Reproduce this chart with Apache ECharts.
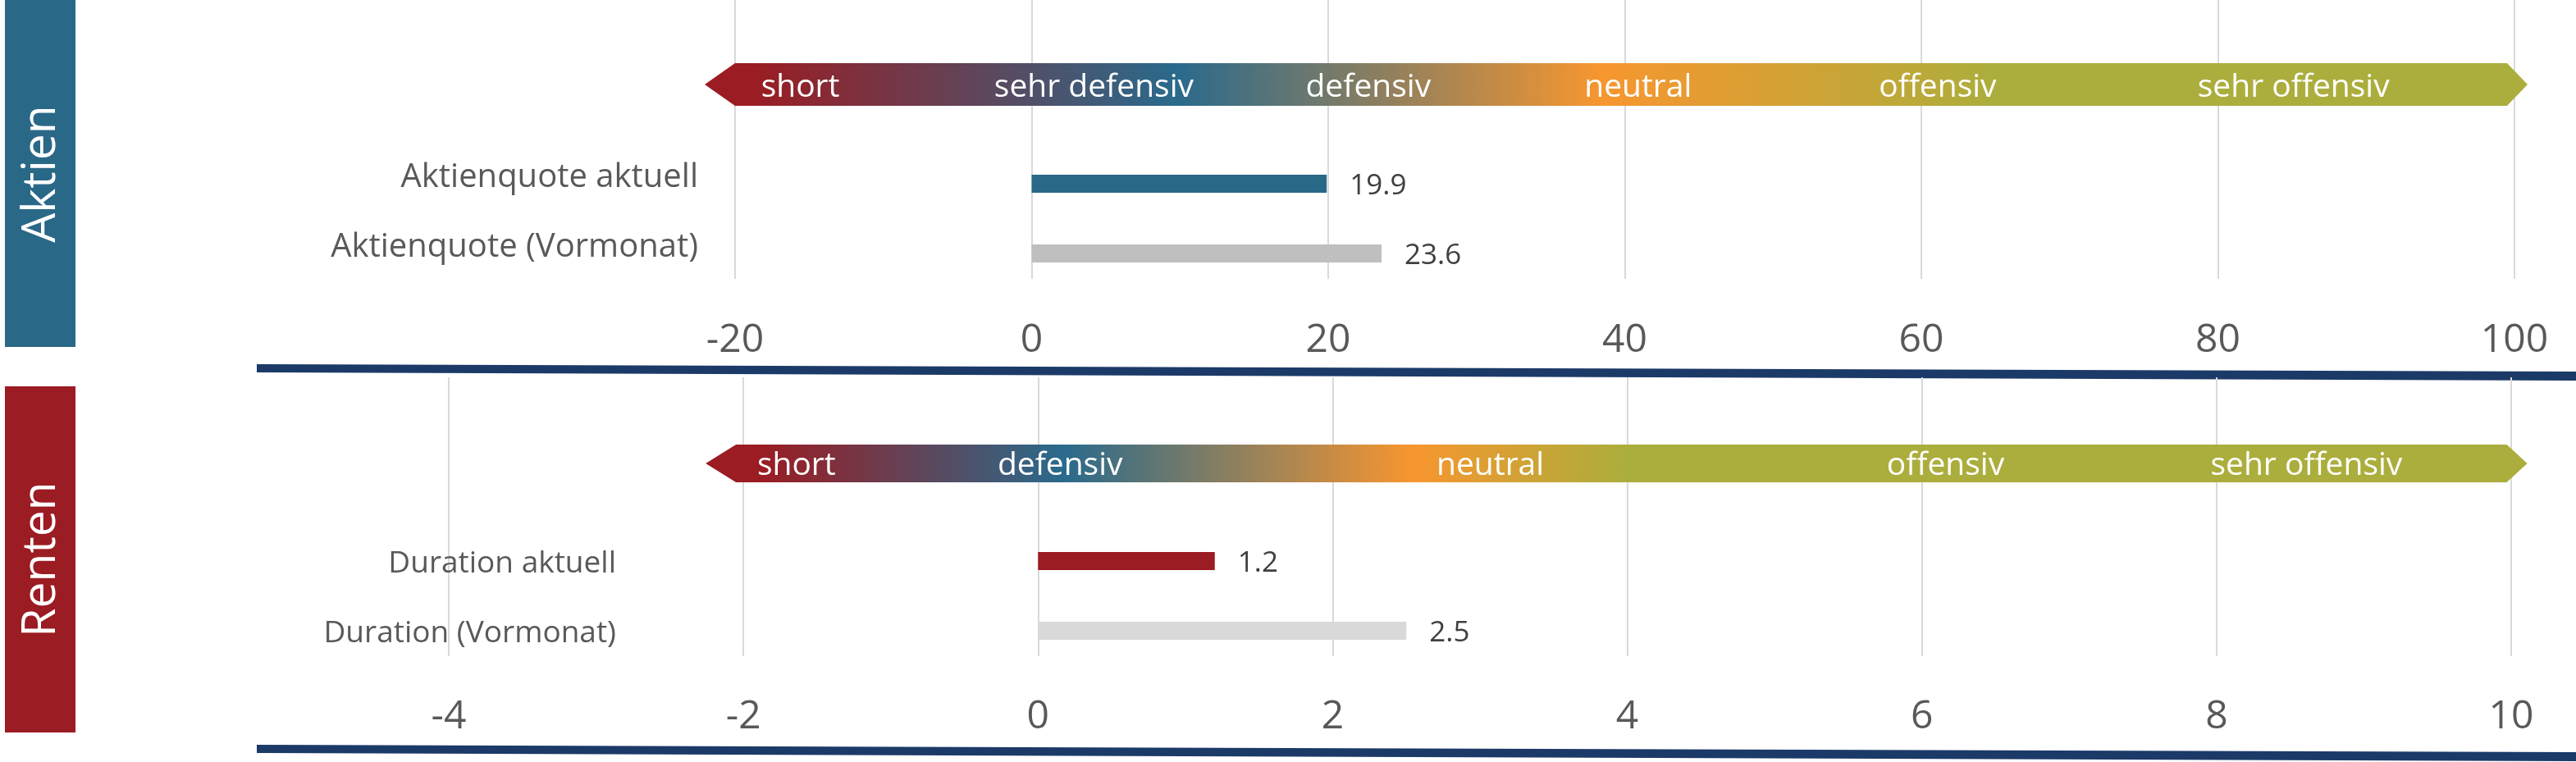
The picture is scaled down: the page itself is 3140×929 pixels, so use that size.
<!DOCTYPE html>
<html>
<head>
<meta charset="utf-8">
<script src="https://cdn.jsdelivr.net/npm/echarts@6/dist/echarts.min.js"></script>
<style>
  html, body { margin: 0; padding: 0; background: #ffffff; }
  #chart { width: 3140px; height: 929px; }
</style>
</head>
<body>
<div id="chart"></div>
<script>
// ---------- data ----------
const topCategories = ['Aktienquote (Vormonat)', 'Aktienquote aktuell'];
const topValues = [23.6, 19.9];
const topAxisRange = [-20, 100, 20];          // min, max, interval
const topBandRange = [-20, 99.5];
const topZoneLabels = ['short', 'sehr defensiv', 'defensiv', 'neutral', 'offensiv', 'sehr offensiv'];
const topZonePos = [-15.6, 4.2, 22.7, 40.9, 61.1, 85.1];
const topGradientPos = [-19, 9.8, 38.4, 65.2];

const bottomCategories = ['Duration (Vormonat)', 'Duration aktuell'];
const bottomValues = [2.5, 1.2];
const bottomAxisRange = [-4, 10, 2];
const bottomBandRange = [-2.05, 9.97];
const bottomZoneLabels = ['short', 'defensiv', 'neutral', 'offensiv', 'sehr offensiv'];
const bottomZonePos = [-1.64, 0.15, 3.07, 6.16, 8.61];
const bottomGradientPos = [-1.9, 0.17, 2.55, 4.0];

// ---------- styles ----------
const FONT = 'Open Sans';
const gradientColors = ['#9B1C22', '#2A6A8C', '#F7962F', '#ABAE3C'];
const topBarColors = ['#BFBFBF', '#2A6888'];
const bottomBarColors = ['#D9D9D9', '#9B1C22'];

const chart = echarts.init(document.getElementById('chart'), null, { renderer: 'canvas' });

function bandSeries(xIdx, range, gradPos, tipL, tipR) {
  return {
    type: 'custom', xAxisIndex: xIdx, yAxisIndex: xIdx, silent: true,
    data: [[range[0], range[1]]],
    renderItem: function (params, api) {
      const s = api.coord([api.value(0), 1]);
      const e = api.coord([api.value(1), 0]);
      const x0 = s[0], y0 = s[1], x1 = e[0], y1 = e[1];
      const ym = (y0 + y1) / 2;
      const span = range[1] - range[0];
      const stops = gradPos.map((p, i) => ({
        offset: Math.max(0, Math.min(1, (p - range[0]) / span)),
        color: gradientColors[i]
      }));
      stops.push({ offset: 1, color: gradientColors[gradientColors.length - 1] });
      return {
        type: 'polygon',
        shape: { points: [[x0 - tipL, ym], [x0, y0], [x1, y0], [x1 + tipR, ym], [x1, y1], [x0, y1]] },
        style: { fill: new echarts.graphic.LinearGradient(x0, 0, x1, 0, stops, true) }
      };
    }
  };
}

function zoneLabelSeries(xIdx, names, pos, size, dy) {
  return {
    type: 'custom', xAxisIndex: xIdx, yAxisIndex: xIdx, silent: true, z: 5,
    data: pos.map((p, i) => [p, 0.5, names[i]]),
    renderItem: function (params, api) {
      const c = api.coord([api.value(0), api.value(1)]);
      return {
        type: 'text',
        style: {
          text: names[params.dataIndex], x: c[0], y: c[1] + dy,
          align: 'center', verticalAlign: 'middle',
          fill: '#ffffff', fontFamily: FONT, fontSize: size
        }
      };
    }
  };
}

function barSeries(xIdx, values, colors) {
  return {
    type: 'bar', xAxisIndex: xIdx, yAxisIndex: xIdx,
    data: values, barWidth: 22, silent: true,
    itemStyle: { color: p => colors[p.dataIndex] },
    label: {
      show: true, position: 'right', distance: 28, offset: [0, 3],
      formatter: p => p.value.toFixed(1),
      fontFamily: FONT, fontSize: 35, color: '#404040'
    }
  };
}

function hiddenX(gi, r) {
  return { type: 'value', gridIndex: gi, min: r[0], max: r[1], interval: r[2], show: false };
}

const option = {
  animation: false,
  backgroundColor: '#ffffff',
  grid: [
    { left: 896, right: 75, top: 0, height: 340 },       // 0 top axis
    { left: 896, right: 75, top: 77, height: 52 },       // 1 top band
    { left: 896, right: 75, top: 181.5, height: 170 },   // 2 top bars
    { left: 547, right: 79, top: 460, height: 340 },     // 3 bottom axis
    { left: 547, right: 79, top: 542, height: 46 },      // 4 bottom band
    { left: 547, right: 79, top: 641.5, height: 170 }    // 5 bottom bars
  ],
  xAxis: [
    {
      type: 'value', gridIndex: 0, min: topAxisRange[0], max: topAxisRange[1], interval: topAxisRange[2],
      axisLine: { show: false }, axisTick: { show: false },
      splitLine: { show: true, lineStyle: { color: '#D9D9D9', width: 2 } },
      axisLabel: { show: true, showMinLabel: true, showMaxLabel: true, margin: 51,
        fontFamily: FONT, fontSize: 48, color: '#595959' }
    },
    hiddenX(1, topAxisRange),
    hiddenX(2, topAxisRange),
    {
      type: 'value', gridIndex: 3, min: bottomAxisRange[0], max: bottomAxisRange[1], interval: bottomAxisRange[2],
      axisLine: { show: false }, axisTick: { show: false },
      splitLine: { show: true, lineStyle: { color: '#D9D9D9', width: 2 } },
      axisLabel: { show: true, showMinLabel: true, showMaxLabel: true, margin: 50,
        fontFamily: FONT, fontSize: 48, color: '#595959' }
    },
    hiddenX(4, bottomAxisRange),
    hiddenX(5, bottomAxisRange)
  ],
  yAxis: [
    { type: 'value', gridIndex: 0, show: false },
    { type: 'value', gridIndex: 1, min: 0, max: 1, show: false },
    {
      type: 'category', gridIndex: 2, data: topCategories,
      axisLine: { show: false }, axisTick: { show: false }, splitLine: { show: false },
      axisLabel: { margin: 45, fontFamily: FONT, fontSize: 40, color: '#595959',
        verticalAlign: 'bottom', lineHeight: 14 }
    },
    { type: 'value', gridIndex: 3, show: false },
    { type: 'value', gridIndex: 4, min: 0, max: 1, show: false },
    {
      type: 'category', gridIndex: 5, data: bottomCategories,
      axisLine: { show: false }, axisTick: { show: false }, splitLine: { show: false },
      axisLabel: { margin: -204, fontFamily: FONT, fontSize: 37, color: '#595959',
        verticalAlign: 'top', lineHeight: 6 }
    }
  ],
  series: [
    bandSeries(1, topBandRange, topGradientPos, 37, 25),
    zoneLabelSeries(1, topZoneLabels, topZonePos, 39, 4),
    barSeries(2, topValues, topBarColors),
    bandSeries(4, bottomBandRange, bottomGradientPos, 37, 25),
    zoneLabelSeries(4, bottomZoneLabels, bottomZonePos, 39, 3),
    barSeries(5, bottomValues, bottomBarColors)
  ],
  graphic: [
    { type: 'rect', shape: { x: 6, y: 0, width: 86, height: 423 }, style: { fill: '#2A6888' }, silent: true },
    { type: 'text', x: 51, y: 212, rotation: Math.PI / 2,
      style: { text: 'Aktien', fill: '#ffffff', fontFamily: FONT, fontSize: 57, align: 'center', verticalAlign: 'middle' }, silent: true },
    { type: 'rect', shape: { x: 6, y: 471, width: 86, height: 422 }, style: { fill: '#9B1C22' }, silent: true },
    { type: 'text', x: 51, y: 682, rotation: Math.PI / 2,
      style: { text: 'Renten', fill: '#ffffff', fontFamily: FONT, fontSize: 57, align: 'center', verticalAlign: 'middle' }, silent: true },
    { type: 'polygon', shape: { points: [[313, 444], [3140, 453], [3140, 464], [313, 454]] }, style: { fill: '#1C3A68' }, silent: true },
    { type: 'polygon', shape: { points: [[313, 908], [3140, 917], [3140, 928], [313, 918]] }, style: { fill: '#1C3A68' }, silent: true }
  ]
};
chart.setOption(option);
</script>
</body>
</html>
